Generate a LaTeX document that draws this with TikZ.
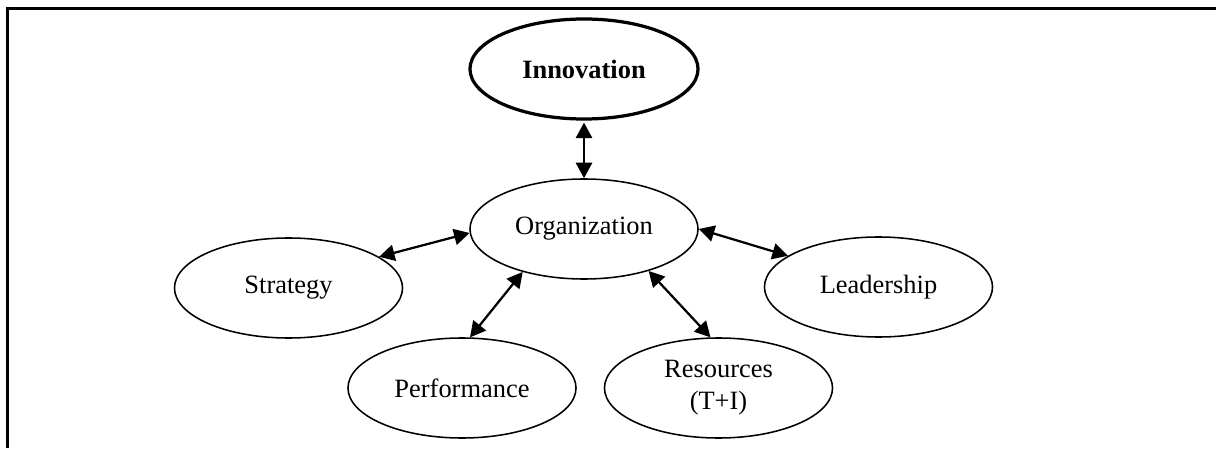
\documentclass[tikz,border=0pt]{standalone}
\usepackage{fontspec}
\setmainfont{Liberation Serif}
\usetikzlibrary{arrows.meta}
\usetikzlibrary{shapes.geometric}
\tikzset{
    enode/.style = {ellipse, draw=black, line width=1.1pt, align=center, inner sep=0pt,
                    minimum width=5.7cm, minimum height=2.5cm,
                    font=\fontsize{18.8}{22.7}\selectfont},
    main_node/.style = {enode, line width=2.3pt, font=\fontsize{18.8}{22.7}\selectfont\bfseries},
    link/.style = {<->, line width=1.6pt},
    frame/.style = {line width=2pt, line join=miter}
}

\begin{document}
\begin{tikzpicture}
            [x=0.025cm, y=0.025cm,
            >={Triangle[length=11pt, width=11.5pt]}]

            \useasboundingbox (0,0) rectangle (1216,448);
            \draw [frame] (7.5,0) -- (7.5,439.5) -- (1216,439.5);

            \node [main_node] (innov) at (584,379) {Innovation};
            \node [enode] (org) at (584,219) {Organization};
            \node [enode] (strat) at (288.5,160) {Strategy};
            \node [enode] (perf) at (462,60) {Performance};
            \node [enode] (res) at (718.5,60) {Resources\\(T+I)};
            \node [enode] (lead) at (878.5,161) {Leadership};

            \draw [link] (innov.south) ++(0,-2) -- (org.north);
            \draw [link] (org.182) -- (strat.19);
            \draw [link] (org.215) -- (perf.81);
            \draw [link] (org.327) -- (res.99);
            \draw [link] (org.0) -- (lead.161);
\end{tikzpicture}
\end{document}
